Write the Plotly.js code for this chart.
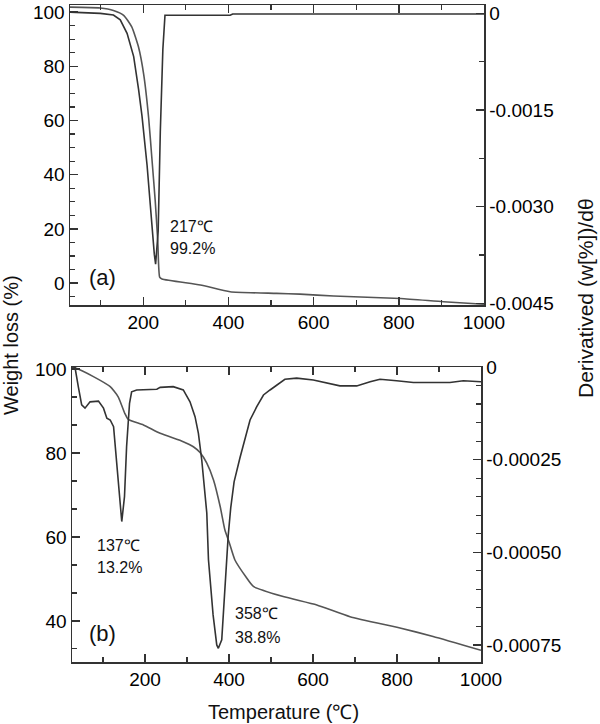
<!DOCTYPE html>
<html><head><meta charset="utf-8">
<script src="https://cdn.plot.ly/plotly-3.0.1.min.js"></script>
<style>html,body{margin:0;padding:0;background:#fff}#chart{width:600px;height:724px}</style>
</head><body><div id="chart"></div>
<script>
// ---- Panel (a) data ----
const tempA_TG   = [28, 99, 130, 154, 173, 189, 201, 212.6, 220, 228, 234, 238.5, 244, 334, 404, 513, 568, 647, 804, 905, 1000];
const weightA    = [101.8, 101.5, 100.6, 98.8, 94.5, 87, 77, 61, 46.5, 30.5, 15.7, 2.2, 1.5, -0.7, -3.2, -3.8, -4.1, -4.8, -5.7, -6.9, -7.8];
const tempA_DTG  = [28, 99, 130, 146, 162, 177.5, 189, 197, 209, 218, 226, 229, 235, 240, 246, 251, 300, 404, 410, 1000];
const derivA     = [0.00002, 0, -0.000026, -0.0001, -0.00031, -0.00067, -0.00118, -0.00159, -0.00236, -0.00313, -0.00374, -0.00389, -0.00338, -0.00184, -0.00056, -0.00003, -0.00003, -0.00003, -0.00001, -0.00001];
// ---- Panel (b) data ----
const tempB_TG   = [26, 33, 77, 117, 136, 152, 160, 196, 236, 291, 315, 331, 347, 363, 379, 390, 400, 414, 440, 458, 529, 609, 688, 807, 886, 1000];
const weightB    = [100.5, 100.3, 98.2, 95.8, 93.4, 89.4, 88, 86.7, 84.7, 82.7, 81.5, 80.1, 77.6, 73.6, 67.2, 61.7, 58.8, 54.5, 50.5, 48.2, 45.8, 43.8, 41, 38.3, 36.3, 33];
const tempB_DTG  = [26, 33, 41, 49, 57, 69, 89, 101, 109, 117, 125, 133, 139, 144.5, 151, 156, 163, 168, 180, 228, 236, 267, 291, 307, 319, 327, 335, 340, 347, 351, 355, 362, 370.7, 374.5, 382.6, 388, 394.5, 398, 404, 412, 426, 450, 466, 482, 497.6, 513.6, 533, 561, 600.7, 664, 704, 736, 759.5, 799, 839, 926, 958, 1000];
const derivB     = [0, 0, -0.000053, -0.000102, -0.000111, -0.000094, -0.000092, -0.000111, -0.000138, -0.000143, -0.000161, -0.00026, -0.00035, -0.000417, -0.00035, -0.000215, -0.000098, -0.000067, -0.000062, -0.00006, -0.000055, -0.000053, -0.000062, -0.000094, -0.000134, -0.000179, -0.000251, -0.000305, -0.000394, -0.00052, -0.000574, -0.000669, -0.00075, -0.000759, -0.000736, -0.000628, -0.00052, -0.000455, -0.00038, -0.00031, -0.000245, -0.000143, -0.000107, -0.0000755, -0.000062, -0.0000485, -0.000033, -0.00003, -0.000035, -0.000051, -0.000051, -0.00004, -0.000033, -0.000037, -0.000042, -0.000042, -0.000037, -0.00004];
// ---- tick labels ----
const tickValsA2 = [0, -0.0015, -0.003, -0.0045];
const tickTextA2 = ['0', '-0.0015', '-0.0030', '-0.0045'];
const tickValsB2 = [0, -0.00025, -0.0005, -0.00075];
const tickTextB2 = ['0', '-0.00025', '-0.00050', '-0.00075'];

const W = 600, H = 724;
const px = x => x / W, py = y => 1 - y / H;
const FONT = 'Liberation Sans, Arial, sans-serif';
const AX = '#333';
const base = {showgrid:false, zeroline:false, showline:true, linecolor:AX, linewidth:1.5,
  ticks:'inside', ticklen:8, tickwidth:1.5, tickcolor:AX,
  tickfont:{family:FONT, size:19, color:'#000'}};
const minorT = d => ({dtick:d, tick0:0, ticks:'inside', ticklen:5, tickwidth:1.2, tickcolor:AX});

const traces = [
  {x: tempA_TG, y: weightA, xaxis:'x', yaxis:'y', mode:'lines', line:{color:'#555', width:1.6, shape:'spline', smoothing:0.5}},
  {x: tempA_DTG, y: derivA, xaxis:'x', yaxis:'y2', mode:'lines', line:{color:'#333', width:1.6}},
  {x: tempB_TG, y: weightB, xaxis:'x2', yaxis:'y3', mode:'lines', line:{color:'#555', width:1.6, shape:'spline', smoothing:0.5}},
  {x: tempB_DTG, y: derivB, xaxis:'x2', yaxis:'y4', mode:'lines', line:{color:'#333', width:1.6}}
];

const ann = (x, y, text, size, extra) => Object.assign({xref:'paper', yref:'paper', x:px(x), y:py(y), text,
  showarrow:false, font:{family:FONT, size, color:'#111'}, xanchor:'left', yanchor:'middle'}, extra || {});

const layout = {
  width: W, height: H, showlegend:false,
  margin:{l:0, r:0, t:0, b:0, pad:0},
  paper_bgcolor:'#fff', plot_bgcolor:'#fff',
  xaxis: Object.assign({}, base, {domain:[px(70), px(484)], anchor:'y', range:[28, 1000], tick0:0, dtick:200, mirror:'ticks', minor:minorT(100)}),
  yaxis: Object.assign({}, base, {domain:[py(305), py(5)], anchor:'x', range:[-8.1, 102.6], tick0:0, dtick:20, minor:minorT(5)}),
  yaxis2: Object.assign({}, base, {overlaying:'y', side:'right', anchor:'x', range:[-0.004525, 0.00013], tickmode:'array', tickvals:tickValsA2, ticktext:tickTextA2, minor:minorT(0.00075)}),
  xaxis2: Object.assign({}, base, {domain:[px(72), px(481)], anchor:'y3', range:[26, 1000], tick0:0, dtick:200, mirror:'ticks', minor:minorT(100)}),
  yaxis3: Object.assign({}, base, {domain:[py(662), py(367)], anchor:'x2', range:[30.2, 100.5], tick0:0, dtick:20, minor:minorT(20/3)}),
  yaxis4: Object.assign({}, base, {overlaying:'y3', side:'right', anchor:'x2', range:[-0.000796, 0], tickmode:'array', tickvals:tickValsB2, ticktext:tickTextB2, minor:minorT(0.00005)}),
  annotations: [
    ann(168, 226, '217℃', 16),
    ann(168, 248, '99.2%', 16),
    ann(87, 277, '(a)', 22),
    ann(95, 545, '137℃', 16),
    ann(95, 567, '13.2%', 16),
    ann(233, 613, '358℃', 16),
    ann(233, 637, '38.8%', 16),
    ann(87, 633, '(b)', 22),
    ann(283, 712, 'Temperature (℃)', 20, {xanchor:'center'}),
    ann(11, 345, 'Weight loss (%)', 20, {xanchor:'center', textangle:-90}),
    ann(585, 298, 'Derivatived (w[%])/dθ', 21, {xanchor:'center', textangle:-90})
  ]
};
Plotly.newPlot('chart', traces, layout, {displayModeBar:false, staticPlot:true});
</script></body></html>
